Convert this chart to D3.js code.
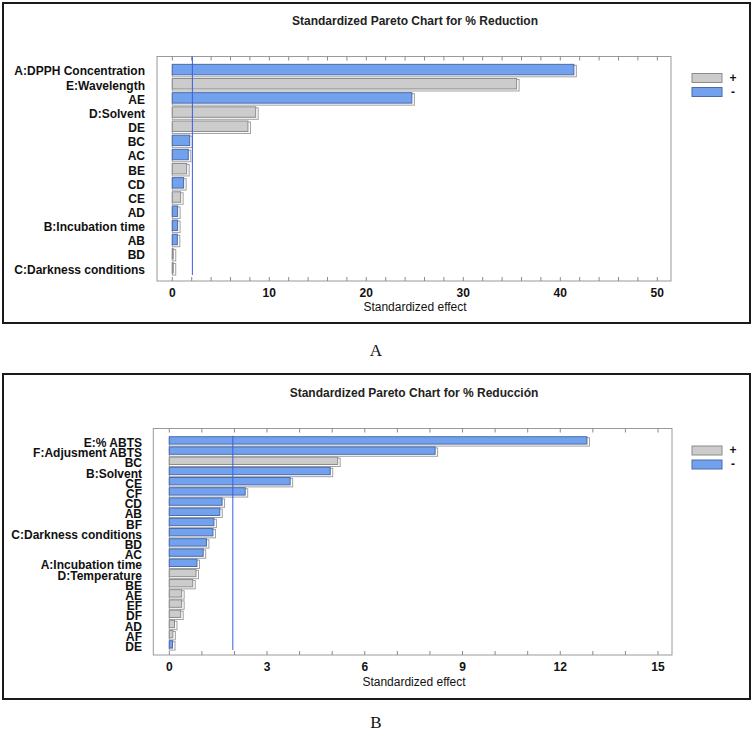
<!DOCTYPE html>
<html><head><meta charset="utf-8">
<script src="https://cdn.jsdelivr.net/npm/d3@7"></script>
<style>
body{margin:0;background:#fff;}
text{font-family:"Liberation Sans Narrow","Liberation Sans",Arial,sans-serif;}
</style></head>
<body><svg id="c" width="753" height="732"></svg>
<script>
// ---- Data ----
const catsA = ["A:DPPH Concentration","E:Wavelength","AE","D:Solvent","DE","BC","AC","BE","CD","CE","AD","B:Incubation time","AB","BD","C:Darkness conditions"];
const valsA = [41.5,35.6,24.8,8.7,7.9,1.9,1.75,1.58,1.27,0.96,0.65,0.65,0.62,0.2,0.2];
const signA = ["-","+","-","+","+","-","-","+","-","+","-","-","-","+","+"];
const ticksA = [0,10,20,30,40,50];
const refA = 2.07;

const catsB = ["E:% ABTS","F:Adjusment ABTS","BC","B:Solvent","CE","CF","CD","AB","BF","C:Darkness conditions","BD","AC","A:Incubation time","D:Temperature","BE","AE","EF","DF","AD","AF","DE"];
const valsB = [12.85,8.19,5.2,4.97,3.74,2.36,1.65,1.58,1.40,1.37,1.17,1.07,0.88,0.85,0.75,0.41,0.41,0.38,0.19,0.14,0.13];
const signB = ["-","-","+","-","-","-","-","-","-","-","-","-","-","+","+","+","+","+","+","+","-"];
const ticksB = [0,3,6,9,12,15];
const refB = 1.95;

const svg = d3.select("#c");
const COL = {"+":{fill:"#cccccc",stroke:"#8c8c8c"}, "-":{fill:"#72a2ee",stroke:"#4c6aa8"}};

function panel(o){
  const g = svg.append("g");
  // outer frame
  g.append("rect").attr("x",o.box[0]).attr("y",o.box[1]).attr("width",o.box[2]-o.box[0]).attr("height",o.box[3]-o.box[1])
    .attr("fill","none").attr("stroke","#1a1a1a").attr("stroke-width",2);
  // title
  g.append("text").attr("x",o.titleX).attr("y",o.titleY).attr("text-anchor","middle")
    .attr("font-size",12).attr("font-weight","bold").attr("fill","#222").text(o.title);
  const x = d3.scaleLinear().domain([0,o.max]).range([o.x0,o.x1]);
  const y = d3.scaleBand().domain(o.cats).range([o.yr0,o.yr1]).paddingInner(o.pin).paddingOuter(o.pin/2);
  // plot frame
  g.append("rect").attr("x",o.pl).attr("y",o.pt).attr("width",o.pr-o.pl).attr("height",o.pb-o.pt)
    .attr("fill","none").attr("stroke","#9a9a9a").attr("stroke-width",1);
  // minor ticks top & bottom (inward)
  const minor = d3.range(0,o.max+1e-9,o.minor);
  g.selectAll(".tb").data(minor).join("line").attr("x1",d=>x(d)).attr("x2",d=>x(d))
    .attr("y1",o.pb).attr("y2",o.pb-4).attr("stroke","#8a8a8a");
  g.selectAll(".tt").data(minor).join("line").attr("x1",d=>x(d)).attr("x2",d=>x(d))
    .attr("y1",o.pt).attr("y2",o.pt+4).attr("stroke","#8a8a8a");
  // tick labels
  g.selectAll(".tl").data(o.ticks).join("text").attr("x",d=>x(d)).attr("y",o.tickY)
    .attr("text-anchor","middle").attr("font-size",12).attr("font-weight","bold").attr("fill","#111").text(d=>d);
  g.append("text").attr("x",o.xlabX).attr("y",o.xlabY).attr("text-anchor","middle")
    .attr("font-size",12).attr("fill","#111").text("Standardized effect");
  // bars
  const data = o.cats.map((c,i)=>({c, v:o.vals[i], s:o.signs[i]}));
  const bw = y.bandwidth();
  // shadow/outline
  g.selectAll(".sh").data(data).join("rect")
    .attr("x",x(0)).attr("y",d=>y(d.c)+1).attr("width",d=>Math.max(1,x(d.v)-x(0)+1.5)).attr("height",bw)
    .attr("fill","#ffffff").attr("stroke","#a0a0a0").attr("stroke-width",1);
  g.selectAll(".br").data(data).join("rect")
    .attr("x",x(0)).attr("y",d=>y(d.c)).attr("width",d=>Math.max(0.5,x(d.v)-x(0)-1)).attr("height",bw-1)
    .attr("fill",d=>COL[d.s].fill).attr("stroke",d=>COL[d.s].stroke).attr("stroke-width",1);
  // reference line
  g.append("line").attr("x1",x(o.ref)).attr("x2",x(o.ref)).attr("y1",o.refY0).attr("y2",o.refY1)
    .attr("stroke","#3a5ee0").attr("stroke-width",1);
  // category labels
  g.selectAll(".cl").data(data).join("text").attr("x",o.labX).attr("y",d=>y(d.c)+bw/2+o.labDy)
    .attr("text-anchor","end").attr("font-size",12).attr("font-weight","bold").attr("fill","#111").text(d=>d.c);
  // legend
  const lg = [{s:"+",y:o.legY[0]},{s:"-",y:o.legY[1]}];
  g.selectAll(".lgb").data(lg).join("rect").attr("x",692).attr("y",d=>d.y).attr("width",30).attr("height",9)
    .attr("fill",d=>COL[d.s].fill).attr("stroke",d=>COL[d.s].stroke).attr("stroke-width",1);
  g.selectAll(".lgt").data(lg).join("text").attr("x",733).attr("y",d=>d.y+8).attr("text-anchor","middle")
    .attr("font-size",12).attr("font-weight","bold").attr("fill","#111").text(d=>d.s);
  // panel letter
  svg.append("text").attr("x",376).attr("y",o.letterY).attr("text-anchor","middle")
    .style("font-family","'Liberation Serif','Times New Roman',serif").attr("font-size",17).attr("fill","#111").text(o.letter);
}

panel({box:[3,3,750,323], title:"Standardized Pareto Chart for % Reduction", titleX:415, titleY:25,
  cats:catsA, vals:valsA, signs:signA, ticks:ticksA, max:50, minor:2, ref:refA,
  x0:172.3, x1:657.3, pl:157, pr:671, pt:56.5, pb:281,
  yr0:63.0, yr1:275.4, pin:0.19, refY0:56.5, refY1:275,
  tickY:296.5, xlabX:415, xlabY:311, labX:145, labDy:5.3, legY:[73.5,87.5], letter:"A", letterY:356});

panel({box:[3,374,750,699], title:"Standardized Pareto Chart for % Reducción", titleX:414, titleY:396.5,
  cats:catsB, vals:valsB, signs:signB, ticks:ticksB, max:15, minor:1, ref:refB,
  x0:169.3, x1:658, pl:153.3, pr:672, pt:428.5, pb:655,
  yr0:435.8, yr1:650, pin:0.18, refY0:435.8, refY1:650,
  tickY:670.5, xlabX:414, xlabY:686, labX:142, labDy:6, legY:[446,460], letter:"B", letterY:728});
</script></body></html>
